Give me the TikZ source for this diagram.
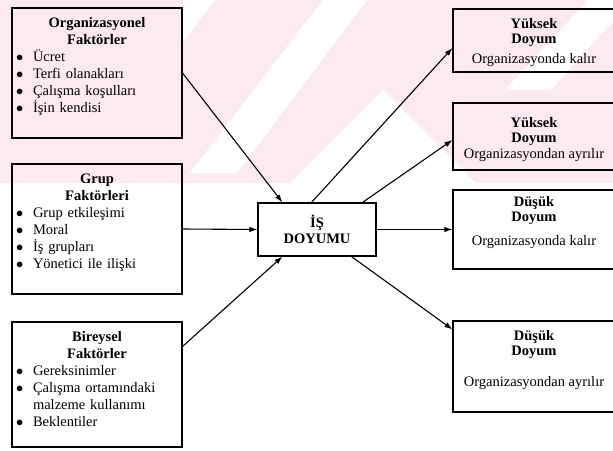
\documentclass[tikz,border=0pt]{standalone}
\usepackage{fontspec}
\setmainfont{Liberation Serif}
\usepackage{tikz}
\usetikzlibrary{arrows.meta, positioning}
\definecolor{markpink}{RGB}{253,234,238}
\newcommand\fsz{\fontsize{14.5}{17}\selectfont}
\newcommand\ttl[1]{\makebox[166pt][c]{\bfseries #1}}
\newcommand\itm[1]{\makebox[19pt][l]{\hspace{2pt}$\bullet$}#1}
\tikzstyle{factbox} = [rectangle, draw, line width=1.1pt, minimum width=170pt, inner sep=0pt]
\tikzstyle{facttxt} = [text width=166pt, align=left, inner sep=0pt, font=\fsz]
\tikzstyle{satbox} = [rectangle, draw, line width=1.1pt, minimum width=118pt, minimum height=53pt,
  inner sep=0pt, align=center, font=\fontsize{14.5}{16}\selectfont\bfseries]
\tikzstyle{resbox} = [rectangle, draw, line width=1.1pt, minimum width=162pt, inner sep=0pt]
\tikzstyle{restxt} = [align=center, inner sep=0pt, font=\fontsize{14.5}{14.5}\selectfont]
\tikzstyle{arrow} = [line width=1.1pt, -{Latex[length=8pt,width=5.5pt]}]

\begin{document}
\begin{tikzpicture}[x=1pt, y=-1pt]
  \useasboundingbox (0,0) rectangle (613,450);

  % watermark
  \fill[markpink] (0,0) rectangle (613,183);
  \fill[white] (183,0) -- (215,0) -- (183,42) -- cycle;
  \fill[white] (190,173) -- (237,173) -- (367,0) -- (323,0) -- cycle;
  \fill[white] (290,183) -- (383,90) -- (476,183) -- cycle;
  \fill[white] (505,90) -- (550,90) -- (633,0) -- (588,0) -- cycle;

  % Factor boxes
  \node (org) [factbox, minimum height=130pt] at (97,73) {};
  \node (orgtxt) [facttxt, below=10pt of org.north]
    {\ttl{Organizasyonel}\\ \ttl{Faktörler}\\ \itm{Ücret}\\ \itm{Terfi olanakları}\\
     \itm{Çalışma koşulları}\\ \itm{İşin kendisi}};

  \node (grup) [factbox, minimum height=130pt] at (97,229) {};
  \node (gruptxt) [facttxt, below=10pt of grup.north]
    {\ttl{Grup}\\ \ttl{Faktörleri}\\ \itm{Grup etkileşimi}\\ \itm{Moral}\\
     \itm{İş grupları}\\ \itm{Yönetici ile ilişki}};

  \node (bir) [factbox, minimum height=125pt] at (97,384.5) {};
  \node (birtxt) [facttxt, below=10pt of bir.north]
    {\ttl{Bireysel}\\ \ttl{Faktörler}\\ \itm{Gereksinimler}\\ \itm{Çalışma ortamındaki}\\
     \hspace*{19pt}malzeme kullanımı\\ \itm{Beklentiler}};

  % Job satisfaction
  \node (is) [satbox] at (317,229.5) {İŞ\\DOYUMU};

  % Outcome boxes
  \node (o1) [resbox, minimum height=63pt] at (534,40.5) {};
  \node (o1txt) [restxt, below=10pt of o1.north]
    {\textbf{Yüksek}\\ \textbf{Doyum}\\[6pt] Organizasyonda kalır};
  \node (o2) [resbox, minimum height=67pt] at (534,136.5) {};
  \node (o2txt) [restxt, below=15pt of o2.north]
    {\textbf{Yüksek}\\ \textbf{Doyum}\\[1.5pt] Organizasyondan ayrılır};
  \node (o3) [resbox, minimum height=79pt] at (534,229.5) {};
  \node (o3txt) [restxt, below=7pt of o3.north]
    {\textbf{Düşük}\\ \textbf{Doyum}\\[10pt] Organizasyonda kalır};
  \node (o4) [resbox, minimum height=91pt] at (534,366.5) {};
  \node (o4txt) [restxt, below=10pt of o4.north]
    {\textbf{Düşük}\\ \textbf{Doyum}\\[17pt] Organizasyondan ayrılır};

  % Arrows
  \draw[arrow] (org.east) -- ([xshift=25pt]is.north west);
  \draw[arrow] (grup.east) -- (is.west);
  \draw[arrow] ([yshift=-25pt]bir.north east) -- ([xshift=25pt]is.south west);
  \draw[arrow] ([xshift=54pt]is.north west) -- ([yshift=-7.5pt]o1.west);
  \draw[arrow] ([xshift=105pt]is.north west) -- ([yshift=-3.5pt]o2.west);
  \draw[arrow] (is.east) -- (o3.west);
  \draw[arrow] ([xshift=94pt]is.south west) -- ([yshift=-9pt]o4.north west);
\end{tikzpicture}
\end{document}
